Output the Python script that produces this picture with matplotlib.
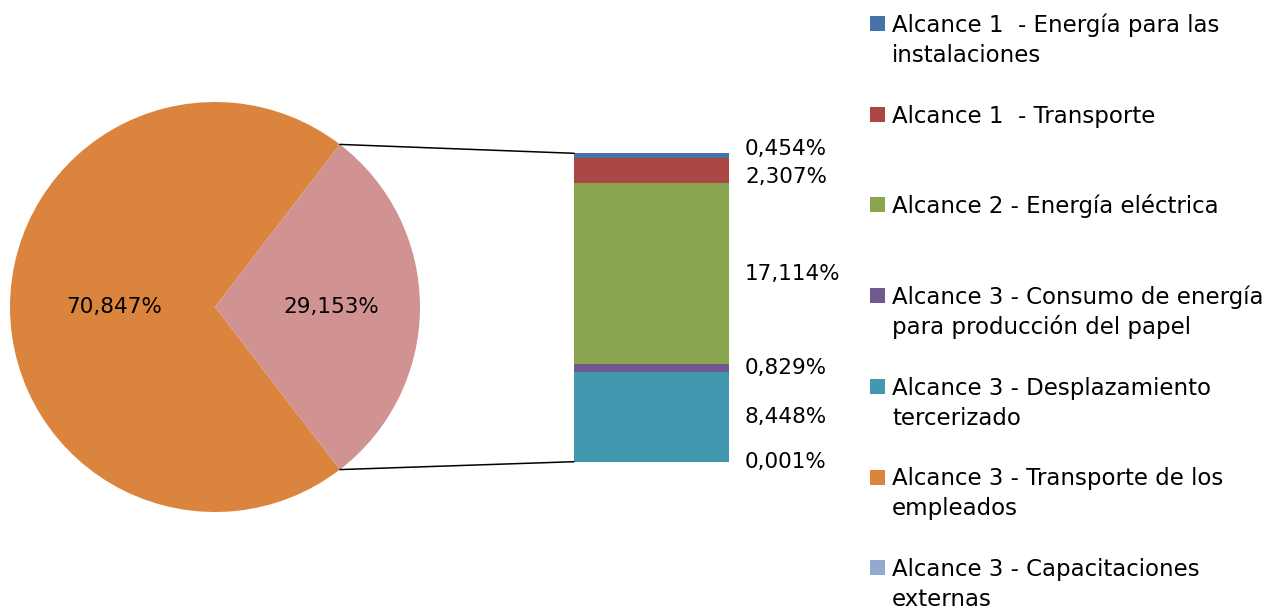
import numpy as np
import matplotlib.pyplot as plt
from matplotlib.patches import ConnectionPatch, Rectangle

plt.rcParams['font.family'] = ['DejaVu Sans']

# pie: resto vs. desglose
pie_values = [70.847, 29.153]
pie_colors = ['#DB843D', '#D19392']

# barra apilada (de abajo hacia arriba)
bar_labels = [
    'Alcance 3 - Capacitaciones\nexternas',
    'Alcance 3 - Desplazamiento\ntercerizado',
    'Alcance 3 - Consumo de energía\npara producción del papel',
    'Alcance 2 - Energía eléctrica',
    'Alcance 1  - Transporte',
    'Alcance 1  - Energía para las\ninstalaciones',
]
bar_values = [0.001, 8.448, 0.829, 17.114, 2.307, 0.454]
bar_colors = ['#93A9CF', '#4198AF', '#71588F', '#89A54E', '#AA4643', '#4572A7']

# leyenda en el orden de Excel
legend_labels = [
    'Alcance 1  - Energía para las\ninstalaciones',
    'Alcance 1  - Transporte',
    'Alcance 2 - Energía eléctrica',
    'Alcance 3 - Consumo de energía\npara producción del papel',
    'Alcance 3 - Desplazamiento\ntercerizado',
    'Alcance 3 - Transporte de los\nempleados',
    'Alcance 3 - Capacitaciones\nexternas',
]
legend_colors = ['#4572A7', '#AA4643', '#89A54E', '#71588F', '#4198AF', '#DB843D', '#93A9CF']


def fmt(v):
    return f'{v:.3f}'.replace('.', ',') + '%'


W, H = 1284, 611
fig = plt.figure(figsize=(W / 100, H / 100), dpi=100)
FS = 15.5
FS_LEG = 16.5

# --- pie ---
ax_pie = fig.add_axes([10 / W, 1 - 512 / H, 410 / W, 410 / H])
half = pie_values[1] * 3.6 / 2
wedges, _ = ax_pie.pie(pie_values, colors=pie_colors, startangle=half,
                       wedgeprops=dict(linewidth=0))
ax_pie.set_xlim(-1, 1)
ax_pie.set_ylim(-1, 1)
ax_pie.set_aspect('equal')
ax_pie.axis('off')

label_dist = [0.49, 0.565]
for w, v, d in zip(wedges, pie_values, label_dist):
    ang = np.deg2rad((w.theta1 + w.theta2) / 2)
    ax_pie.text(d * np.cos(ang), d * np.sin(ang), fmt(v),
                ha='center', va='center', fontsize=FS)

# --- barra ---
total = sum(bar_values)
ax_bar = fig.add_axes([574 / W, 1 - 461.7 / H, 155 / W, 308.4 / H])
bottom = 0
centers = []
for v, c in zip(bar_values, bar_colors):
    ax_bar.bar(0, v, width=1, bottom=bottom, color=c, linewidth=0)
    centers.append(bottom + v / 2)
    bottom += v
ax_bar.set_xlim(-0.5, 0.5)
ax_bar.set_ylim(0, total)
ax_bar.axis('off')

# pequeños desplazamientos para que no se pisen las etiquetas chicas
label_dy = [0, 0, 0, -1, -6.5, 6.7]
for v, yc, dy in zip(bar_values, centers, label_dy):
    ax_bar.annotate(fmt(v), xy=(0.5, yc), xytext=(16, dy),
                    textcoords='offset pixels', ha='left', va='center',
                    fontsize=FS, annotation_clip=False)

# líneas de conexión
a = np.deg2rad(half)
for sgn, ybar in [(1, total), (-1, 0)]:
    con = ConnectionPatch(xyA=(np.cos(a), sgn * np.sin(a)), coordsA=ax_pie.transData,
                          xyB=(-0.5, ybar), coordsB=ax_bar.transData,
                          color='black', lw=1.1)
    fig.add_artist(con)

# --- leyenda ---
y0, step, lstep = 32, 90.7, 30
for i, (lab, c) in enumerate(zip(legend_labels, legend_colors)):
    yb = y0 + i * step
    fig.add_artist(Rectangle((870 / W, 1 - (yb - 1) / H), 15 / W, 15 / H,
                             transform=fig.transFigure, color=c, lw=0))
    for j, line in enumerate(lab.split('\n')):
        fig.text(892 / W, 1 - (yb + j * lstep) / H, line, ha='left',
                 va='baseline', fontsize=FS_LEG)

fig.savefig('out.png', dpi=100)
